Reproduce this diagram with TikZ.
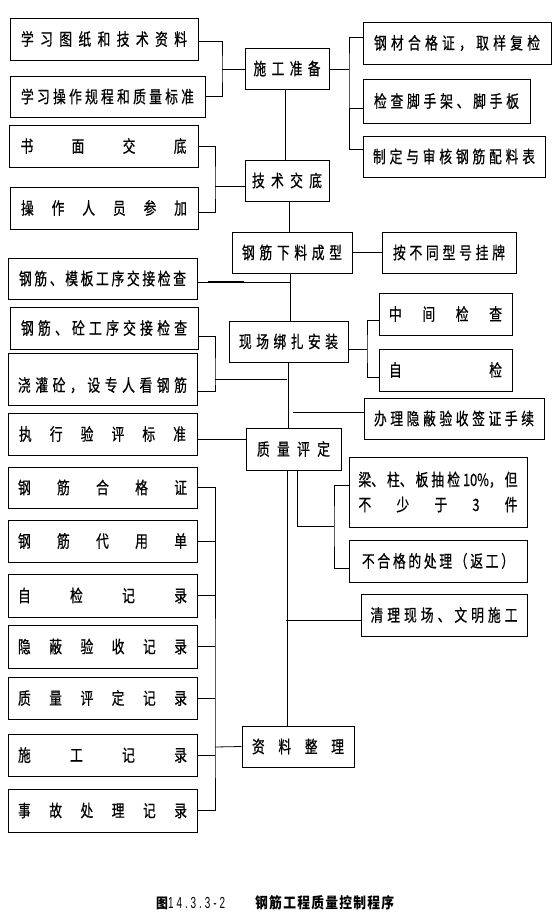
\documentclass[tikz,border=0pt]{standalone}
\usepackage{fontspec}
\setmainfont{Liberation Sans}
\newfontfamily\cjk[FakeStretch=0.75,FakeBold=0.6]{Noto Sans CJK SC}
\newfontfamily\cjkcap[FakeStretch=0.85]{Noto Sans CJK SC}
\newfontfamily\capnum[FakeStretch=0.62]{Liberation Sans}
\def\sprloop#1{\ifx#1\relax\else\hfill#1\expandafter\sprloop\fi}
\def\sprfirst#1{#1\sprloop}
\newcommand\spr[2]{\hbox to #1{\sprfirst#2\relax}}
\newcommand\bxn[7]{\node[bx,minimum width=#4pt,minimum height=#5pt] (#1) at (#2,#3) {\spr{#6pt}{#7}};}
\begin{document}
\begin{tikzpicture}[x=1pt,y=-1pt,
  bx/.style={draw,line width=1pt,inner sep=0pt,font=\cjk\fontsize{17}{20}\selectfont},
  ln/.style={line width=0.8pt}]
\useasboundingbox (0,0) rectangle (553,921);
\fill[white] (0,0) rectangle (553,921);
% left column
\bxn{L1}{104}{39}{188}{42}{166}{学习图纸和技术资料}
\bxn{L2}{107.5}{96.5}{195}{41}{173}{学习操作规程和质量标准}
\bxn{L3}{103.5}{146}{189}{42}{166}{书面交底}
\bxn{L4}{104}{208}{188}{42}{166}{操作人员参加}
\bxn{L5}{102.5}{278.5}{189}{41}{167}{钢筋、模板工序交接检查}
\bxn{L6}{104}{328}{188}{42}{166}{钢筋、砼工序交接检查}
\node[bx,minimum width=189pt,minimum height=52pt] (L7) at (102.5,379) {\rule[-2pt]{0pt}{29pt}\spr{169pt}{浇灌砼，设专人看钢筋}};
\bxn{L8}{102.5}{434}{189}{42}{167}{执行验评标准}
\bxn{R1}{102.5}{487.5}{189}{41}{169}{钢筋合格证}
\bxn{R2}{102.5}{541}{189}{42}{169}{钢筋代用单}
\bxn{R3}{102.5}{595.5}{189}{43}{169}{自检记录}
\bxn{R4}{102.5}{646.5}{189}{43}{169}{隐蔽验收记录}
\bxn{R5}{102.5}{698}{189}{42}{169}{质量评定记录}
\bxn{R6}{102.5}{755}{189}{42}{169}{施工记录}
\bxn{R7}{102.5}{810.5}{189}{43}{169}{事故处理记录}
% centre column
\bxn{C1}{287}{68.5}{84}{41}{67}{施工准备}
\bxn{C2}{287}{180.5}{84}{41}{70}{技术交底}
\bxn{C3}{292}{252.5}{120}{41}{100}{钢筋下料成型}
\bxn{C4}{288.5}{341.5}{119}{41}{99}{现场绑扎安装}
\bxn{C5}{293.5}{449}{95}{42}{73}{质量评定}
\bxn{C6}{298}{746.5}{112}{41}{92}{资料整理}
% right column
\bxn{Q1}{457}{43}{188}{42}{166}{钢材合格证，取样复检}
\bxn{Q2}{446.5}{101}{167}{44}{145}{检查脚手架、脚手板}
\bxn{Q3}{454}{156.5}{182}{41}{162}{制定与审核钢筋配料表}
\bxn{Q4}{449}{252.5}{134}{41}{112}{按不同型号挂牌}
\bxn{Q5}{445.5}{314}{133}{42}{113}{中间检查}
\bxn{Q6}{445.5}{370}{133}{42}{113}{自检}
\bxn{Q7}{454}{418.5}{180}{41}{160}{办理隐蔽验收签证手续}
\node[bx,minimum width=178pt,minimum height=70pt] (Q8) at (438,492)
  {\vbox{\baselineskip=25pt\lineskiplimit=-20pt
   \hbox to 159pt{梁、\hfill 柱、\hfill 板\hfill 抽\hfill 检\hfill 10\%，\hfill 但}
   \spr{159pt}{不少于3件}}};
\bxn{Q9}{438}{561}{178}{42}{152}{不合格的处理（返工）}
\bxn{Q10}{444}{615}{166}{42}{147}{清理现场、文明施工}
% connectors: preparation
\coordinate (j1) at (222,69);
\draw[ln] ([yshift=-2pt]L1.east) -| (j1) |- (L2.east);
\draw[ln] (j1) -- (C1.west |- j1);
\coordinate (j2) at (349,69);
\draw[ln] (C1.east |- j2) -- (j2);
\draw[ln] ([yshift=6pt]Q1.west) -| (j2) |- ([yshift=7.5pt]Q3.west);
\draw[ln] ([yshift=-7pt]Q2.west) -- ++(-14,0);
\draw[ln] ([xshift=-2pt]C1.south) -- ([xshift=-2pt]C1.south |- C2.north);
% technical briefing
\coordinate (j3) at (215,186);
\draw[ln] (L3.east) -| (j3) |- ([yshift=-4pt]L4.east);
\draw[ln] (j3) -- (C2.west |- j3);
\draw[ln] ([xshift=2pt]C2.south) -- ([xshift=2pt]C2.south |- C3.north);
% cutting
\draw[ln] (C3.east) -- (Q4.west);
\draw[ln] ([xshift=-2pt]C3.south) -- ([xshift=-2pt]C3.south |- C4.north);
\draw[ln] ([yshift=-3.5pt]L5.east) -- ++(93,0);
\draw[line width=2pt] ([xshift=10pt,yshift=-3.5pt]L5.east) -- ++(36,0);
% installation
\coordinate (j4) at (367,349);
\draw[ln] ([yshift=-7.5pt]C4.east) -- (j4);
\draw[ln] ([yshift=-6pt]Q5.west) -| (j4) |- ([yshift=-7pt]Q6.west);
\coordinate (j5) at (215,379);
\draw[ln] ([yshift=-8pt]L6.east) -| (j5) |- ([yshift=-12pt]L7.east);
\draw[ln] (j5) -- ++(72,0);
\draw[ln] (C4.south) -- (C4.south |- C5.north);
\draw[ln] ([yshift=6.5pt]Q7.west) -- ++(-71,0);
% quality assessment
\draw[ln] ([yshift=-5pt]L8.east) -- ++(49,0);
\draw[ln] ([xshift=-6.5pt]C5.south) -- ([xshift=-6.5pt]C5.south |- C6.north);
\coordinate (j6) at (334,526);
\draw[ln] ([xshift=3.5pt]C5.south) |- (j6);
\draw[ln] ([yshift=7pt]Q8.west) -| (j6) |- ([yshift=-7pt]Q9.west);
\draw[ln] ([yshift=-5pt]Q10.west) -- ++(-75,0);
% records
\coordinate (j7) at (215,747);
\draw[ln] (R1.east) -| (j7) |- (R7.east);
\foreach \r in {R2,R3,R4,R5,R6} \draw[ln] (\r.east) -- (j7 |- \r.east);
\draw[ln] (j7) -- (C6.west);
% caption
\node[anchor=west,inner sep=0pt] (cap1) at (156,903)
  {{\cjkcap\bfseries\fontsize{14}{16}\selectfont 图}\capnum\fontsize{16}{18}\selectfont\spr{57pt}{14.3.3-2}};
\node[anchor=west,inner sep=0pt,font=\cjkcap\bfseries\fontsize{15}{17}\selectfont] (cap2) at (255,903)
  {\spr{139pt}{钢筋工程质量控制程序}};
\end{tikzpicture}
\end{document}
